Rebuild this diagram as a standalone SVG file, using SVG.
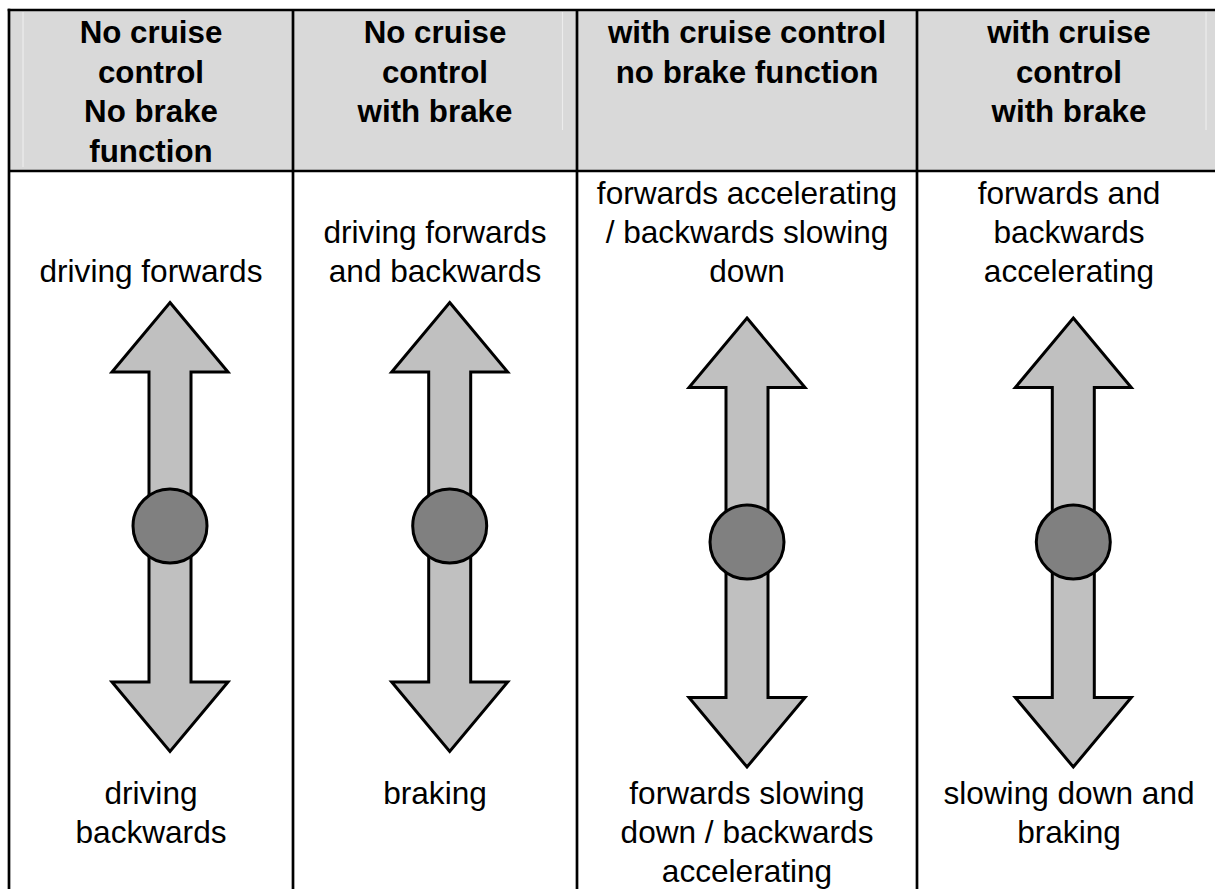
<svg xmlns="http://www.w3.org/2000/svg" width="1215" height="889" viewBox="0 0 1215 889">
<style>
.hdr{font-family:"Liberation Sans",Arial,sans-serif;font-weight:bold;font-size:31.3px;fill:#000;text-anchor:middle}
.txt{font-family:"Liberation Sans",Arial,sans-serif;font-size:31.6px;fill:#000;text-anchor:middle}
.grid{stroke:#000;stroke-width:2.7;fill:none}
.faint{stroke:#ececec;stroke-width:1.2}
.arrow{fill:#c0c0c0;stroke:#000;stroke-width:3;stroke-linejoin:miter}
.knob{fill:#808080;stroke:#000;stroke-width:3}
</style>
<defs>
<polygon id="dblarrow" class="arrow" points="0,-224.5 58,-155 21,-155 21,155 58,155 0,224.5 -58,155 -21,155 -21,-155 -58,-155"/>
</defs>
<rect x="0" y="0" width="1215" height="889" fill="#fff"/>
<g id="table">
<rect x="9" y="10" width="1210" height="161" fill="#d9d9d9"/>
<line class="faint" x1="23" y1="12" x2="23" y2="167"/>
<line class="faint" x1="562.5" y1="12" x2="562.5" y2="130"/>
<line class="faint" x1="1206" y1="12" x2="1206" y2="130"/>
<line class="grid" x1="7.7" y1="10" x2="1215" y2="10"/>
<line class="grid" x1="9" y1="171" x2="1215" y2="171"/>
<line class="grid" x1="9" y1="8.7" x2="9" y2="889"/>
<line class="grid" x1="293" y1="10" x2="293" y2="889"/>
<line class="grid" x1="577" y1="10" x2="577" y2="889"/>
<line class="grid" x1="917" y1="10" x2="917" y2="889"/>
</g>
<g id="col1">
<text class="hdr" x="151" y="43">No cruise</text>
<text class="hdr" x="151" y="82.5">control</text>
<text class="hdr" x="151" y="122">No brake</text>
<text class="hdr" x="151" y="161.5">function</text>
<text class="txt" x="151" y="281.5">driving forwards</text>
<use href="#dblarrow" x="170" y="527"/>
<circle class="knob" cx="170" cy="526" r="37"/>
<text class="txt" x="151" y="803.5">driving</text>
<text class="txt" x="151" y="842.5">backwards</text>
</g>
<g id="col2">
<text class="hdr" x="435" y="43">No cruise</text>
<text class="hdr" x="435" y="82.5">control</text>
<text class="hdr" x="435" y="122">with brake</text>
<text class="txt" x="435" y="242.5">driving forwards</text>
<text class="txt" x="435" y="281.5">and backwards</text>
<use href="#dblarrow" x="449.7" y="527"/>
<circle class="knob" cx="449.7" cy="526" r="37"/>
<text class="txt" x="435" y="803.5">braking</text>
</g>
<g id="col3">
<text class="hdr" x="747" y="43">with cruise control</text>
<text class="hdr" x="747" y="82.5">no brake function</text>
<text class="txt" x="747" y="203.5">forwards accelerating</text>
<text class="txt" x="747" y="242.5">/ backwards slowing</text>
<text class="txt" x="747" y="281.5">down</text>
<use href="#dblarrow" x="747" y="542.5"/>
<circle class="knob" cx="747" cy="542" r="37"/>
<text class="txt" x="747" y="803.5">forwards slowing</text>
<text class="txt" x="747" y="842.5">down / backwards</text>
<text class="txt" x="747" y="881.5">accelerating</text>
</g>
<g id="col4">
<text class="hdr" x="1069" y="43">with cruise</text>
<text class="hdr" x="1069" y="82.5">control</text>
<text class="hdr" x="1069" y="122">with brake</text>
<text class="txt" x="1069" y="203.5">forwards and</text>
<text class="txt" x="1069" y="242.5">backwards</text>
<text class="txt" x="1069" y="281.5">accelerating</text>
<use href="#dblarrow" x="1073.3" y="542.5"/>
<circle class="knob" cx="1073.3" cy="542" r="37"/>
<text class="txt" x="1069" y="803.5">slowing down and</text>
<text class="txt" x="1069" y="842.5">braking</text>
</g>
<g id="connectors"/>
</svg>
